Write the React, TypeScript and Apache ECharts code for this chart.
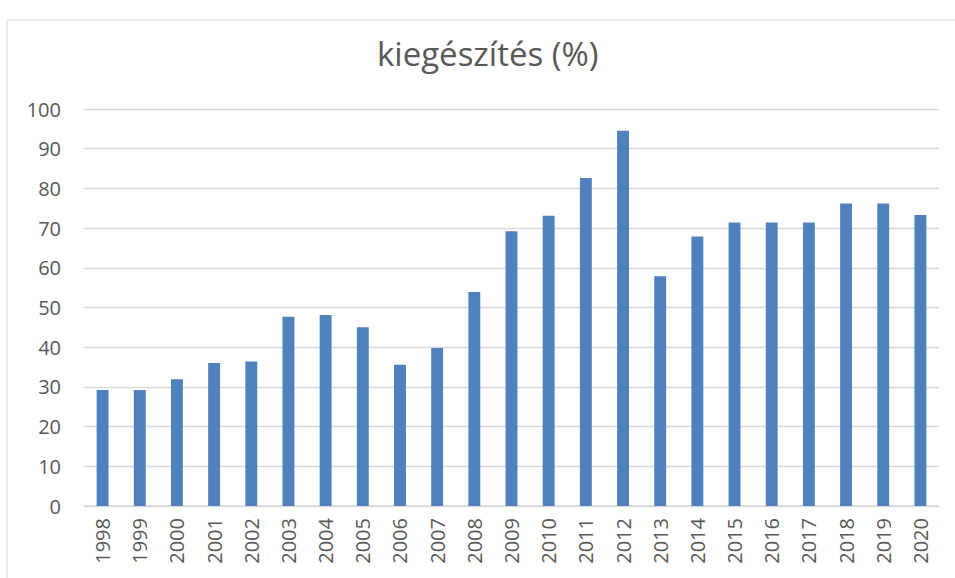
import React, { useEffect, useRef } from "react";
import * as echarts from "echarts";

const TITLE = "kiegészítés (%)";
const years = [
  "1998", "1999", "2000", "2001", "2002", "2003", "2004", "2005", "2006", "2007", "2008",
  "2009", "2010", "2011", "2012", "2013", "2014", "2015", "2016", "2017", "2018", "2019", "2020",
];
const values = [
  29.2, 29.2, 31.9, 36.0, 36.4, 47.7, 48.1, 45.0, 35.6, 39.8, 53.9,
  69.2, 73.1, 82.6, 94.5, 57.9, 67.9, 71.4, 71.4, 71.4, 76.2, 76.2, 73.3,
];
const yMin = 0;
const yMax = 100;
const yStep = 10;

export default function App() {
  const ref = useRef<HTMLDivElement>(null);
  useEffect(() => {
    if (!ref.current) return;
    const chart = echarts.init(ref.current, undefined, { renderer: "svg" });
    const font = "'Open Sans', 'Noto Sans', sans-serif";
    chart.setOption({
      animation: false,
      backgroundColor: "#ffffff",
      textStyle: { fontFamily: font },
      title: {
        text: TITLE,
        left: 372,
        top: 32,
        textStyle: { fontFamily: font, fontSize: 33, fontWeight: "normal", color: "#595959" },
      },
      graphic: [
        {
          type: "rect",
          shape: { x: 7, y: 20, width: 1000, height: 700 },
          style: { fill: "none", stroke: "#d9d9d9", lineWidth: 1 },
          silent: true,
          z: -1,
        },
      ],
      grid: { left: 84, right: 16, top: 109, bottom: 72, containLabel: false },
      xAxis: {
        type: "category",
        data: years,
        axisLine: { show: true, lineStyle: { color: "#d9d9d9", width: 1.5 } },
        axisTick: { show: false },
        axisLabel: {
          rotate: 90,
          margin: 12,
          fontSize: 20,
          color: "#595959",
          fontFamily: font,
          interval: 0,
        },
      },
      yAxis: {
        type: "value",
        min: yMin,
        max: yMax,
        interval: yStep,
        axisLine: { show: false },
        axisTick: { show: false },
        axisLabel: { fontSize: 20, color: "#595959", margin: 23, fontFamily: font },
        splitLine: { lineStyle: { color: "#d9d9d9", width: 1.3 } },
      },
      series: [
        {
          type: "bar",
          data: values,
          barWidth: "32%",
          itemStyle: { color: "#4f81bd" },
        },
      ],
    });
    return () => chart.dispose();
  }, []);
  return (
    <div
      ref={ref}
      style={{ position: "fixed", left: 0, top: 0, width: 955, height: 578 }}
    />
  );
}
